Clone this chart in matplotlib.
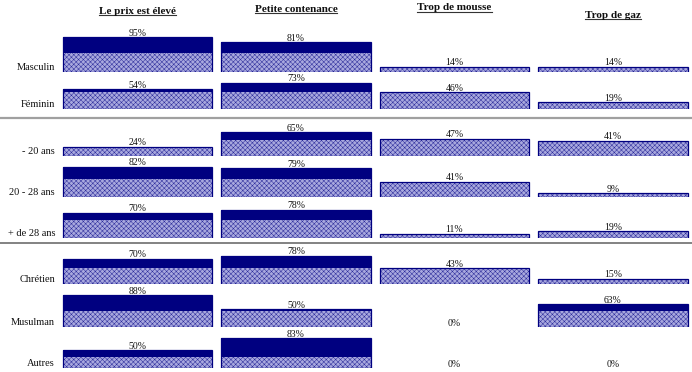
import matplotlib
matplotlib.use("Agg")
import matplotlib.pyplot as plt
import matplotlib.transforms as mtransforms
from matplotlib.lines import Line2D

# Survey results (% of respondents), one list per complaint
groups = ["Le prix est élevé", "Petite contenance", "Trop de mousse", "Trop de gaz"]
rows = ["Masculin", "Féminin", "- 20 ans", "20 - 28 ans", "+ de 28 ans",
        "Chrétien", "Musulman", "Autres"]
prix = [95, 54, 24, 82, 70, 70, 88, 50]
contenance = [81, 73, 65, 79, 78, 78, 50, 83]
mousse = [14, 46, 47, 41, 11, 43, 0, 0]
gaz = [14, 19, 41, 9, 19, 15, 63, 0]
# level (%) up to which each row's bars are drawn with the dotted pattern
hatch_level = [51, 47, 44, 48, 50, 44, 46, 31]

W, H = 692, 372
NAVY = "#000080"
SERIF = ["Liberation Serif", "DejaVu Serif"]

# row baselines (px from top), separators, scale
baselines = [71.7, 109, 155.7, 196.7, 238, 284, 327.3, 368.3]
separators = [(118, "#a0a0a0", 1.6), (242.5, "#606060", 1.1)]
PX_PER_PCT = 0.362
AX_LEFT, AX_W = 58.25, 634.0
BAR_W = 0.946

plt.rcParams["hatch.linewidth"] = 0.35

fig = plt.figure(figsize=(W / 100, H / 100), dpi=100)
fig.patch.set_facecolor("white")

values = list(zip(prix, contenance, mousse, gaz))
axes = []
for r, label in enumerate(rows):
    h = 100 * PX_PER_PCT
    ax = fig.add_axes([AX_LEFT / W, 1 - baselines[r] / H, AX_W / W, h / H])
    ax.set_xlim(-0.5, 3.5)
    ax.set_ylim(0, 100)
    ax.axis("off")
    vals = values[r]
    xs = range(len(groups))
    low = [min(v, hatch_level[r]) for v in vals]
    top = [v - lo for v, lo in zip(vals, low)]
    ax.bar(xs, low, width=BAR_W, color="#a8a8de", edgecolor="#2a2a9a",
           hatch="xxxxxxx", linewidth=0, zorder=2)
    ax.bar(xs, top, bottom=low, width=BAR_W, color=NAVY, edgecolor=NAVY,
           linewidth=0, zorder=2)
    for x, v in zip(xs, vals):
        if v > 0:
            ax.bar(x, v, width=BAR_W, fill=False, edgecolor=NAVY,
                   linewidth=0.9, zorder=3)
        ax.annotate(f"{v}%", xy=(x, v), xytext=(0, 1.6),
                    textcoords="offset pixels", ha="center", va="baseline",
                    fontsize=7, family=SERIF, color="#111111",
                    annotation_clip=False)
    fig.text(55 / W, 1 - (baselines[r] - 4.5) / H, label, ha="right",
             va="center", fontsize=7.5, family=SERIF, color="#111111")
    axes.append(ax)

for y, c, lw in separators:
    fig.add_artist(Line2D([0, 1], [1 - y / H] * 2, transform=fig.transFigure,
                          color=c, linewidth=lw))

# column headers, bold and underlined
header_y = [11.5, 9, 8, 15]
trans = mtransforms.blended_transform_factory(axes[0].transData, fig.transFigure)
titles = []
for i, g in enumerate(groups):
    t = fig.text(i, 1 - header_y[i] / H, g, transform=trans, ha="center",
                 va="center", fontsize=8, fontweight="bold", family=SERIF,
                 color="#111111")
    titles.append(t)

fig.canvas.draw()
renderer = fig.canvas.get_renderer()
for t in titles:
    bb = t.get_window_extent(renderer)
    y = (bb.y0 + 0.8) / H
    fig.add_artist(Line2D([bb.x0 / W, bb.x1 / W], [y, y],
                          transform=fig.transFigure, color="#333333",
                          linewidth=0.8))

fig.savefig("out.png", dpi=100, facecolor="white")
plt.close(fig)
